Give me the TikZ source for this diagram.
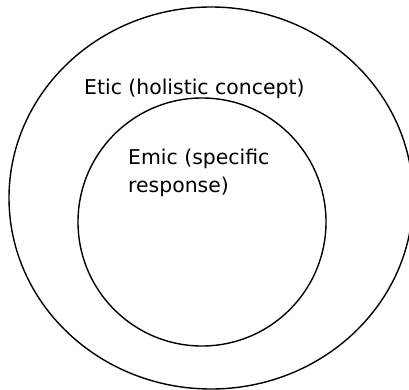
\documentclass[tikz,border=0pt]{standalone}
\usepackage{fontspec}
\setmainfont{DejaVu Sans}
\begin{document}
\begin{tikzpicture}[x=1pt,y=-1pt,
  ring/.style={draw=black,line width=1.4pt},
  lbl/.style={inner sep=0pt,anchor=base west,align=left,font=\fontsize{20.4}{27.5}\selectfont}]
\useasboundingbox (0,0) rectangle (409,390);
\begin{scope}
\clip (0,0) rectangle (409,390);
\draw[ring] (211,198) ellipse [x radius=202,y radius=191];
\end{scope}
\draw[ring] (202,222) circle [radius=124];
\node[lbl] (etic) at (84,94.5) {Etic (holistic concept)};
\node[lbl] (emic) at (128,192) {Emic (specific\\response)};
\end{tikzpicture}
\end{document}
